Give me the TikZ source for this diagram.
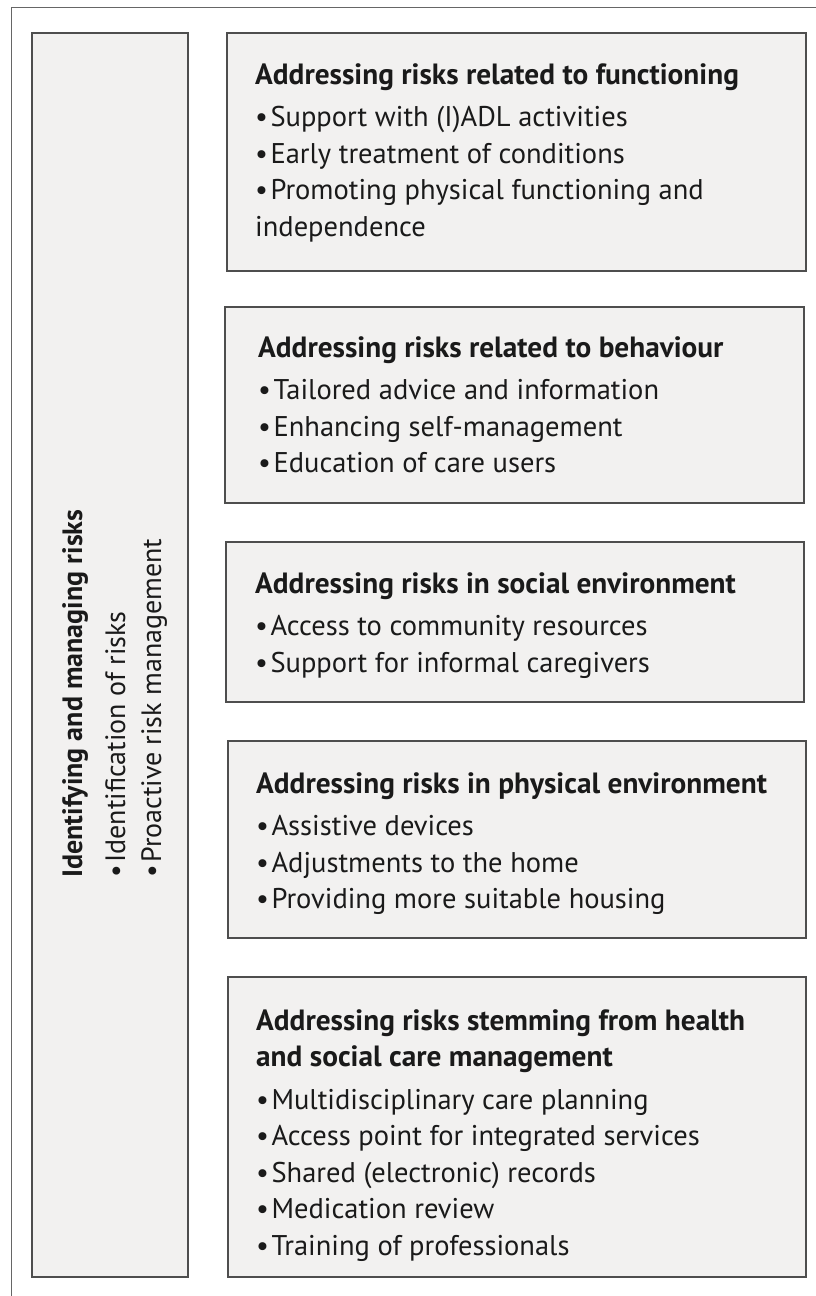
\documentclass[tikz,border=0pt]{standalone}
\usepackage{fontspec}
\setmainfont{PT Sans}
\definecolor{boxfill}{HTML}{F2F1F0}
\definecolor{boxline}{HTML}{4E4E4E}
\definecolor{frameline}{HTML}{666666}
\definecolor{ink}{HTML}{1A1A1A}
\newcommand{\hdtext}[1]{{\fontsize{29.3}{36.5}\selectfont\bfseries #1}}
\newcommand{\bul}{•\kern2.5pt}
\begin{document}
\begin{tikzpicture}[x=1pt,y=-1pt,
  box/.style={draw=boxline, fill=boxfill, line width=1.8pt, rectangle, inner sep=0pt},
  txt/.style={anchor=north west, align=left, inner sep=0pt, text=ink,
    font=\fontsize{28.5}{36.5}\selectfont}]
\useasboundingbox (0,0) rectangle (816,1296);
\fill[white] (0,0) rectangle (816,1296);
% outer frame (cropped at right and bottom)
\coordinate (fr1) at (11.5,1296);
\coordinate (fr2) at (11.5,7.5);
\coordinate (fr3) at (816,7.5);
\draw[frameline, line width=1.3pt] (fr1) -- (fr2) -- (fr3);
% boxes
\node[box, minimum width=156pt, minimum height=1244pt] (left) at (110,655) {};
\node[box, minimum width=579pt, minimum height=238pt] (b1) at (516.5,152) {};
\node[box, minimum width=579pt, minimum height=196pt] (b2) at (514.5,405) {};
\node[box, minimum width=578pt, minimum height=160pt] (b3) at (515,622) {};
\node[box, minimum width=578pt, minimum height=197pt] (b4) at (517,839.5) {};
\node[box, minimum width=578pt, minimum height=300pt] (b5) at (517,1127) {};
% texts
\node[txt, rotate=90, font=\fontsize{28}{36}\selectfont] (tl) at (62,878) {\textbf{Identifying and managing risks}\\[7pt]
\bul Identification of risks\\
\bul Proactive risk management};
\node[txt] (t1) at (255,63) {\hdtext{Addressing risks related to functioning}\\[6pt]
\bul Support with (I)ADL activities\\
\bul Early treatment of conditions\\
\bul Promoting physical functioning and\\
independence};
\node[txt] (t2) at (258,336) {\hdtext{Addressing risks related to behaviour}\\[6pt]
\bul Tailored advice and information\\
\bul Enhancing self-management\\
\bul Education of care users};
\node[txt] (t3) at (255,572) {\hdtext{Addressing risks in social environment}\\[6pt]
\bul Access to community resources\\
\bul Support for informal caregivers};
\node[txt] (t4) at (256,772) {\hdtext{Addressing risks in physical environment}\\[6pt]
\bul Assistive devices\\
\bul Adjustments to the home\\
\bul Providing more suitable housing};
\node[txt] (t5) at (256,1009) {\hdtext{Addressing risks stemming from health}\\
\hdtext{and social care management}\\[6pt]
\bul Multidisciplinary care planning\\
\bul Access point for integrated services\\
\bul Shared (electronic) records\\
\bul Medication review\\
\bul Training of professionals};
\end{tikzpicture}
\end{document}
